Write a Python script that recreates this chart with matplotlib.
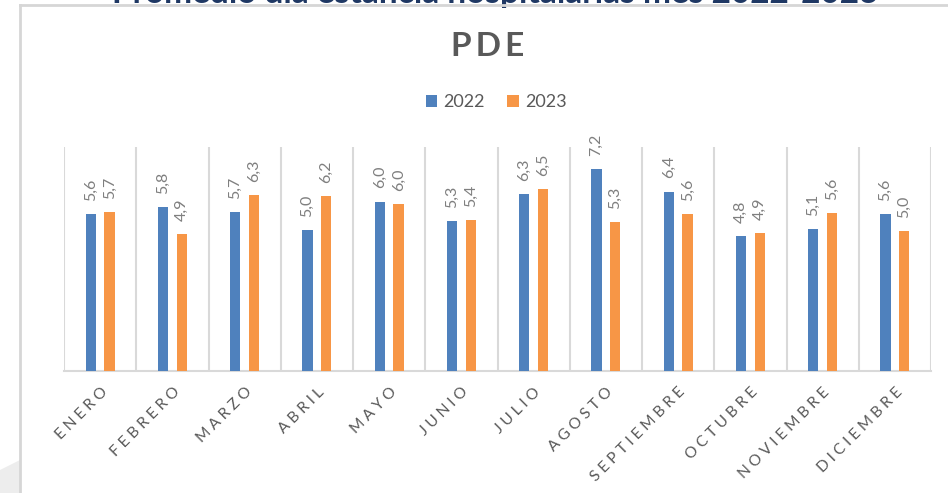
import matplotlib
matplotlib.use('Agg')
import matplotlib.pyplot as plt
from matplotlib.lines import Line2D
from matplotlib.patches import Polygon
import numpy as np

months = ['ENERO', 'FEBRERO', 'MARZO', 'ABRIL', 'MAYO', 'JUNIO', 'JULIO',
          'AGOSTO', 'SEPTIEMBRE', 'OCTUBRE', 'NOVIEMBRE', 'DICIEMBRE']
pde_2022 = [5.60, 5.84, 5.67, 5.03, 6.05, 5.34, 6.33, 7.20, 6.41, 4.82, 5.07, 5.61]
pde_2023 = [5.67, 4.89, 6.29, 6.24, 5.97, 5.38, 6.49, 5.31, 5.59, 4.93, 5.64, 4.99]
series_names = ['2022', '2023']

BLUE = '#4F81BD'
ORANGE = '#F79646'
GRID = '#D9D9D9'
TXT = '#595959'
FONT = ['Lato', 'DejaVu Sans']

plt.rcParams['font.family'] = FONT

fig = plt.figure(figsize=(9.48, 4.93), dpi=100)
fig.patch.set_facecolor('white')

# decorative bits outside the chart panel
fig.add_artist(Polygon([(0, 23 / 493), (20 / 948, 33 / 493), (20 / 948, 0), (0, 0)],
                       closed=True, transform=fig.transFigure, facecolor='#EDEDED',
                       edgecolor='none', zorder=0))
fig.text(495 / 948, 1 - 3.5 / 493, 'Promedio día estancia hospitalarias mes 2022-2023',
         ha='center', va='baseline', fontsize=24, fontweight='bold', color='#1F3864', zorder=1)
fig.add_artist(Line2D([20 / 948, 1], [1 - 5 / 493, 1 - 5 / 493], transform=fig.transFigure,
                      color='#D6D6D6', lw=2, zorder=2))
fig.add_artist(Line2D([20 / 948, 20 / 948], [0, 1 - 5 / 493], transform=fig.transFigure,
                      color='#D6D6D6', lw=2, zorder=2))

ax = fig.add_axes([64 / 948, 122 / 493, 867 / 948, 224 / 493])
x = np.arange(len(months))
w = 0.14
off = 0.13
b1 = ax.bar(x - off, pde_2022, w, color=BLUE, label=series_names[0], zorder=3)
b2 = ax.bar(x + off, pde_2023, w, color=ORANGE, label=series_names[1], zorder=3)

for bars, vals in ((b1, pde_2022), (b2, pde_2023)):
    for r, v in zip(bars, vals):
        ax.annotate(f'{v:.1f}'.replace('.', ','), (r.get_x() + r.get_width() / 2, r.get_height()),
                    xytext=(0, 9.5), textcoords='offset points', rotation=90,
                    ha='center', va='bottom', fontsize=11.5, color='#7F7F7F')

ax.set_xlim(-0.5, len(months) - 0.5)
ax.set_ylim(0, 8)
for b in np.arange(-0.5, len(months), 1.0):
    ax.axvline(b, color=GRID, lw=1.5, zorder=1)
for s in ['top', 'left', 'right']:
    ax.spines[s].set_visible(False)
ax.spines['bottom'].set_color(GRID)
ax.spines['bottom'].set_linewidth(1.5)
ax.set_yticks([])
ax.set_xticks(x)
ax.set_xticklabels(['\u2005'.join(m) for m in months], rotation=45, ha='right',
                   rotation_mode='anchor', fontsize=11.2, color=TXT)
ax.tick_params(axis='x', length=0, pad=10)

fig.text(488 / 948, 1 - 47 / 493, 'P\u2009D\u2009E', ha='center', va='center',
         fontsize=24, fontweight='bold', color=TXT)
fig.legend(handles=[b1, b2], loc='center', bbox_to_anchor=(496 / 948, 1 - 102 / 493),
           ncol=2, frameon=False, fontsize=13, handlelength=0.65, handleheight=0.65,
           handletextpad=0.35, columnspacing=1.2, labelcolor=TXT)

fig.savefig('out.png', dpi=100)
